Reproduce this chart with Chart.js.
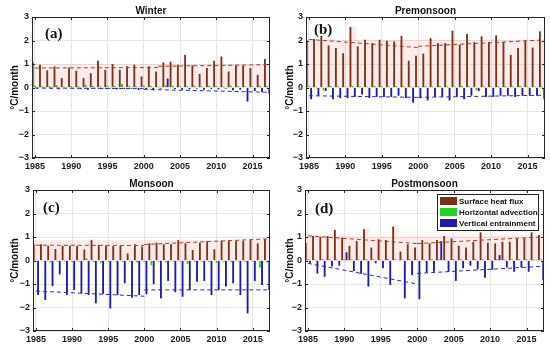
<!DOCTYPE html>
<html>
<head>
<meta charset="utf-8">
<script src="https://cdn.jsdelivr.net/npm/chart.js"></script>
<style>
  body { margin: 0; background: #fff; width: 550px; height: 351px; position: relative; overflow: hidden;
         font-family: "Liberation Sans", Arial, sans-serif; }
  .panel { position: absolute; }
  .letter { position: absolute; font-family: "Liberation Serif", "Times New Roman", serif; font-weight: bold; font-size: 15px; color: #111; }
  #legend { position: absolute; left: 437px; top: 194px; width: 100px; border: 1px solid #222; background: #fff;
            font: bold 8px "Liberation Sans", Arial, sans-serif; color: #111; padding: 1px 0; }
  #legend div { height: 11px; line-height: 11px; white-space: nowrap; }
  #legend span { display: inline-block; width: 17px; height: 8px; margin: 0 2px 0 2px; vertical-align: -1px; }
</style>
</head>
<body>
<div class="panel" style="left:0;top:0"><canvas id="pa" width="275" height="175"></canvas></div>
<div class="panel" style="left:275px;top:0"><canvas id="pb" width="275" height="175"></canvas></div>
<div class="panel" style="left:0;top:175px"><canvas id="pc" width="275" height="176"></canvas></div>
<div class="panel" style="left:275px;top:175px"><canvas id="pd" width="275" height="176"></canvas></div>
<div class="letter" style="left:45px;top:25px">(a)</div>
<div class="letter" style="left:314px;top:21px">(b)</div>
<div class="letter" style="left:43px;top:199px">(c)</div>
<div class="letter" style="left:315px;top:200px">(d)</div>
<div id="legend"></div>
<script>
// years and ticks
var years = [1985, 1986, 1987, 1988, 1989, 1990, 1991, 1992, 1993, 1994, 1995, 1996, 1997, 1998, 1999, 2000,
             2001, 2002, 2003, 2004, 2005, 2006, 2007, 2008, 2009, 2010, 2011, 2012, 2013, 2014, 2015, 2016, 2017];
var xTicks = [1985, 1990, 1995, 2000, 2005, 2010, 2015];
var yTicks = [-3, -2, -1, 0, 1, 2, 3];

var seriesNames = ["Surface heat flux", "Horizontal advection", "Vertical entrainment"];
var seriesColors = ["#7c3216", "#1fd41f", "#1c1ca6"];

// Winter
var winterHeat = [1.08, 0.97, 0.73, 0.9, 0.4, 0.85, 0.71, 0.4, 0.61, 1.14, 0.75, 1.0, 0.75, 0.9, 0.97, 0.47,
                  0.9, 0.68, 1.07, 1.1, 0.97, 1.39, 0.94, 0.58, 0.83, 1.14, 1.32, 0.68, 0.94, 0.94, 0.83, 0.54, 1.21];
var winterAdv = [0.08, 0.05, 0.06, 0.1, 0.04, 0.07, 0.05, 0.12, 0.06, 0.05, 0.08, 0.06, 0.15, 0.07, 0.05, 0.09,
                 0.06, 0.04, 0.1, 0.07, 0.05, 0.06, 0.08, 0.05, 0.07, 0.06, 0.05, 0.08, 0.06, 0.04, 0.05, 0.07, 0.06];
var winterEnt = [-0.05, -0.04, -0.06, -0.08, -0.03, -0.05, -0.07, -0.1, -0.04, -0.06, -0.05, -0.08, -0.06, -0.05, -0.1, -0.07,
                 -0.12, -0.05, 0.38, -0.06, -0.1, -0.08, -0.05, -0.1, -0.06, -0.08, -0.05, -0.12, -0.1, -0.6, -0.15, -0.2, -0.25];
var winterBand = [1.0, 1.0, 1.0, 1.0, 1.0, 1.0, 1.0, 1.0, 1.0, 1.0, 1.0, 1.0, 1.0, 1.0, 1.0, 1.0,
                  1.0, 1.0, 1.0, 1.0, 1.0, 1.0, 1.0, 1.0, 1.0, 1.0, 1.0, 1.0, 1.0, 1.0, 1.0, 1.0, 1.0];
var winterHeatTrend = [[1985, 0.83], [2002, 0.85], [2002, null], [2002, 0.9], [2017, 0.97]];
var winterEntTrend = [[1985, -0.02], [2000, -0.05], [2000, null], [2000, -0.08], [2017, -0.2]];

// Premonsoon
var preHeat = [2.0, 2.06, 2.2, 1.79, 1.68, 1.46, 2.57, 1.75, 2.03, 1.89, 2.03, 1.99, 1.96, 2.2, 1.14, 1.35,
               1.44, 2.1, 1.89, 1.89, 2.42, 1.82, 2.28, 1.93, 2.18, 1.93, 2.22, 1.93, 1.39, 1.68, 2.0, 1.7, 2.39];
var preAdv = [0.05, 0.04, -0.12, 0.06, 0.05, 0.04, 0.07, 0.05, 0.04, 0.06, 0.05, 0.04, 0.06, 0.05, 0.04, 0.06,
              0.05, 0.04, 0.06, 0.05, 0.04, 0.06, 0.05, -0.12, 0.05, 0.04, 0.06, 0.05, 0.04, 0.06, 0.05, 0.04, 0.05];
var preEnt = [-0.5, -0.35, -0.15, -0.5, -0.45, -0.45, -0.4, -0.3, -0.45, -0.4, -0.4, -0.4, -0.35, -0.45, -0.65, -0.45,
              -0.55, -0.4, -0.4, -0.55, -0.4, -0.5, -0.35, -0.15, -0.4, -0.4, -0.35, -0.35, -0.4, -0.35, -0.35, -0.35, -0.5];
var preBand = [2.03, 2.03, 2.03, 2.03, 2.03, 2.03, 2.6, 2.03, 2.03, 2.03, 2.03, 2.03, 2.03, 2.03, 2.03, 2.03,
               2.03, 2.03, 2.03, 2.03, 2.03, 2.03, 2.03, 2.03, 2.03, 2.03, 2.03, 2.03, 2.03, 2.03, 2.03, 2.03, 2.03];
var preHeatTrend = [[1985, 2.05], [2000, 1.7], [2000, null], [2000, 1.75], [2017, 2.02]];
var preEntTrend = [[1985, -0.35], [2000, -0.42], [2000, null], [2000, -0.42], [2017, -0.33]];

// Monsoon
var monHeat = [0.69, 0.69, 0.63, 0.49, 0.63, 0.63, 0.62, 0.47, 0.87, 0.66, 0.63, 0.62, 0.62, 0.3, 0.69, 0.59,
               0.73, 0.76, 0.69, 0.69, 0.87, 0.73, 0.45, 0.76, 0.83, 0.48, 0.84, 0.84, 0.84, 0.84, 0.87, 0.73, 0.91];
var monAdv = [-0.05, -0.03, -0.08, -0.05, -0.04, -0.06, -0.05, 0.1, -0.07, -0.1, -0.05, -0.04, -0.06, -0.05, -0.08, -0.06,
              -0.2, -0.05, -0.07, -0.04, -0.05, -0.15, -0.06, -0.05, -0.08, -0.1, -0.05, -0.06, -0.04, -0.07, -0.05, -0.3, -0.08];
var monEnt = [-1.47, -1.68, -1.09, -0.59, -1.47, -1.26, -1.4, -1.47, -1.82, -1.42, -2.04, -1.47, -0.97, -1.58, -1.47, -1.44,
              -1.01, -1.61, -0.87, -1.35, -1.54, -1.26, -0.9, -0.87, -1.47, -1.26, -1.11, -0.97, -1.47, -2.25, -0.87, -1.04, -1.26];
var monBand = [0.87, 0.87, 0.87, 0.87, 0.87, 0.87, 0.87, 0.87, 0.9, 0.87, 0.87, 0.87, 0.87, 0.87, 0.87, 0.87,
               0.87, 0.87, 0.87, 0.87, 0.9, 0.87, 0.87, 0.87, 0.87, 0.87, 0.87, 0.87, 0.87, 0.87, 0.9, 0.87, 0.92];
var monHeatTrend = [[1985, 0.65], [2000, 0.64], [2000, null], [2000, 0.68], [2017, 0.92]];
var monEntTrend = [[1985, -1.3], [2000, -1.52], [2000, null], [2000, -1.25], [2017, -1.25]];

// Postmonsoon
var postHeat = [0.73, 1.04, 1.01, 1.04, 1.3, 0.97, 0.62, 0.83, 1.33, 0.55, 0.9, 0.87, 1.44, 0.38, 0.69, 0.55,
                0.87, 0.73, 0.87, 1.04, 0.94, 0.63, 0.55, 0.8, 1.2, 0.76, 0.73, 0.8, 0.8, 0.91, 0.94, 1.2, 1.09];
var postAdv = [0.05, 0.04, 0.06, 0.05, 0.04, 0.06, 0.05, 0.04, 0.06, 0.05, 0.04, 0.06, 0.05, 0.04, 0.06, 0.05,
               0.04, 0.06, 0.05, 0.04, 0.06, 0.05, 0.04, 0.06, 0.05, 0.04, 0.06, 0.05, 0.04, 0.06, 0.05, 0.04, 0.05];
var postEnt = [-0.12, -0.56, -0.69, -0.26, -0.22, 0.35, -0.45, -0.57, -1.11, -0.12, -0.33, -1.04, -0.02, -1.61, -0.62, -1.65,
               -0.52, -0.48, 0.83, -0.48, -0.87, -0.33, -0.22, -0.38, -0.73, -0.4, 0.23, -0.3, -0.48, -0.3, -0.48, 0.02, -0.83];
var postBand = [1.05, 1.05, 1.05, 1.05, 1.05, 1.05, 1.05, 1.05, 1.4, 1.05, 1.05, 1.05, 1.5, 1.05, 1.05, 1.05,
                1.05, 1.05, 1.05, 1.05, 1.05, 1.05, 1.05, 1.05, 1.05, 1.05, 1.05, 1.05, 1.05, 1.05, 1.05, 1.05, 1.05];
var postHeatTrend = [[1985, 1.05], [2000, 0.72], [2000, null], [2000, 0.72], [2017, 1.0]];
var postEntTrend = [[1985, -0.12], [2000, -1.0], [2000, null], [2000, -0.55], [2017, -0.25]];

var X_MIN = 1984.6, X_MAX = 2017.4;
var tickFont = { family: "'Liberation Sans', Arial, sans-serif", size: 9, weight: 'bold' };

function pts(vals) {
  return years.map(function (y, i) { return { x: y, y: vals[i] }; });
}
function bandPts(vals) {
  var p = pts(vals);
  p.unshift({ x: X_MIN, y: vals[0] });
  p.push({ x: X_MAX, y: vals[vals.length - 1] });
  return p;
}
function trendPts(pairs) {
  return pairs.map(function (p) { return { x: p[0], y: p[1] }; });
}

// axes box with inward ticks, MATLAB style
var boxPlugin = {
  id: 'box',
  afterDatasetsDraw: function (chart) {
    var a = chart.chartArea, ctx = chart.ctx;
    var xs = chart.scales.x, ys = chart.scales.y;
    ctx.save();
    ctx.strokeStyle = '#262626';
    ctx.lineWidth = 1;
    ctx.strokeRect(Math.round(a.left) + 0.5, Math.round(a.top) + 0.5,
                   Math.round(a.right - a.left) - 1, Math.round(a.bottom - a.top) - 1);
    ctx.beginPath();
    xTicks.forEach(function (v) {
      var px = Math.round(xs.getPixelForValue(v)) + 0.5;
      ctx.moveTo(px, a.bottom); ctx.lineTo(px, a.bottom - 3);
      ctx.moveTo(px, a.top); ctx.lineTo(px, a.top + 3);
    });
    yTicks.forEach(function (v) {
      var py = Math.round(ys.getPixelForValue(v)) + 0.5;
      ctx.moveTo(a.left, py); ctx.lineTo(a.left + 3, py);
      ctx.moveTo(a.right, py); ctx.lineTo(a.right - 3, py);
    });
    ctx.stroke();
    ctx.restore();
  }
};

function makePanel(id, title, heat, adv, ent, band, heatTrend, entTrend, lay) {
  var vals = [heat, adv, ent];
  var datasets = vals.map(function (v, i) {
    return {
      label: seriesNames[i], data: pts(v), backgroundColor: seriesColors[i],
      borderWidth: 0, categoryPercentage: 0.9, barPercentage: 0.85, order: 2
    };
  });
  datasets.push({
    type: 'line', label: 'band', data: bandPts(band), stepped: 'middle', fill: 'origin',
    backgroundColor: 'rgba(250,120,120,0.15)', borderWidth: 0, pointRadius: 0, order: 9
  });
  datasets.push({
    type: 'line', label: 'heat trend', data: trendPts(heatTrend), borderColor: '#a4401c',
    borderWidth: 1, borderDash: [4, 3], pointRadius: 0, spanGaps: false, fill: false, order: 0
  });
  datasets.push({
    type: 'line', label: 'ent trend', data: trendPts(entTrend), borderColor: '#2a2ac4',
    borderWidth: 1, borderDash: [4, 3], pointRadius: 0, spanGaps: false, fill: false, order: 0
  });

  new Chart(document.getElementById(id), {
    type: 'bar',
    data: { datasets: datasets },
    plugins: [boxPlugin],
    options: {
      responsive: false,
      animation: false,
      devicePixelRatio: 1,
      layout: { padding: { left: 0, right: lay.right, top: 0, bottom: 0 } },
      plugins: {
        legend: { display: false },
        tooltip: { enabled: false },
        title: {
          display: true, text: title, fullSize: false, color: '#111',
          font: { family: "'Liberation Sans', Arial, sans-serif", size: 10, weight: 'bold' },
          padding: { top: lay.titleTop, bottom: 0 }
        }
      },
      scales: {
        x: {
          type: 'linear', min: X_MIN, max: X_MAX, offset: false,
          afterBuildTicks: function (s) { s.ticks = xTicks.map(function (v) { return { value: v }; }); },
          afterFit: function (s) { s.height = lay.xh; },
          grid: { color: '#e6e6e6', drawTicks: false, offset: false },
          border: { display: false },
          ticks: { font: tickFont, color: '#1a1a1a', padding: 3, autoSkip: false, maxRotation: 0,
                   callback: function (v) { return String(v); } }
        },
        y: {
          min: -3, max: 3,
          afterBuildTicks: function (s) { s.ticks = yTicks.map(function (v) { return { value: v }; }); },
          afterFit: function (s) { s.width = lay.yw; },
          grid: { color: '#e6e6e6', drawTicks: false },
          border: { display: false },
          ticks: { font: tickFont, color: '#1a1a1a', padding: 3,
                   callback: function (v) { return v < 0 ? '\u2212' + (-v) : String(v); } },
          title: { display: true, text: '°C/month', color: '#111',
                   font: { family: "'Liberation Sans', Arial, sans-serif", size: 10, weight: 'bold' },
                   padding: { top: 9, bottom: 0 } }
        }
      }
    }
  });
}

makePanel('pa', 'Winter', winterHeat, winterAdv, winterEnt, winterBand, winterHeatTrend, winterEntTrend,
          { right: 5, titleTop: 5, xh: 17, yw: 32 });
makePanel('pb', 'Premonsoon', preHeat, preAdv, preEnt, preBand, preHeatTrend, preEntTrend,
          { right: 5, titleTop: 5, xh: 17, yw: 31 });
makePanel('pc', 'Monsoon', monHeat, monAdv, monEnt, monBand, monHeatTrend, monEntTrend,
          { right: 5, titleTop: 3, xh: 20, yw: 33 });
makePanel('pd', 'Postmonsoon', postHeat, postAdv, postEnt, postBand, postHeatTrend, postEntTrend,
          { right: 6, titleTop: 3, xh: 20, yw: 30 });

// legend (panel d)
var legend = document.getElementById('legend');
seriesNames.forEach(function (name, i) {
  var row = document.createElement('div');
  var sw = document.createElement('span');
  sw.style.background = seriesColors[i];
  row.appendChild(sw);
  row.appendChild(document.createTextNode(name));
  legend.appendChild(row);
});
</script>
</body>
</html>
